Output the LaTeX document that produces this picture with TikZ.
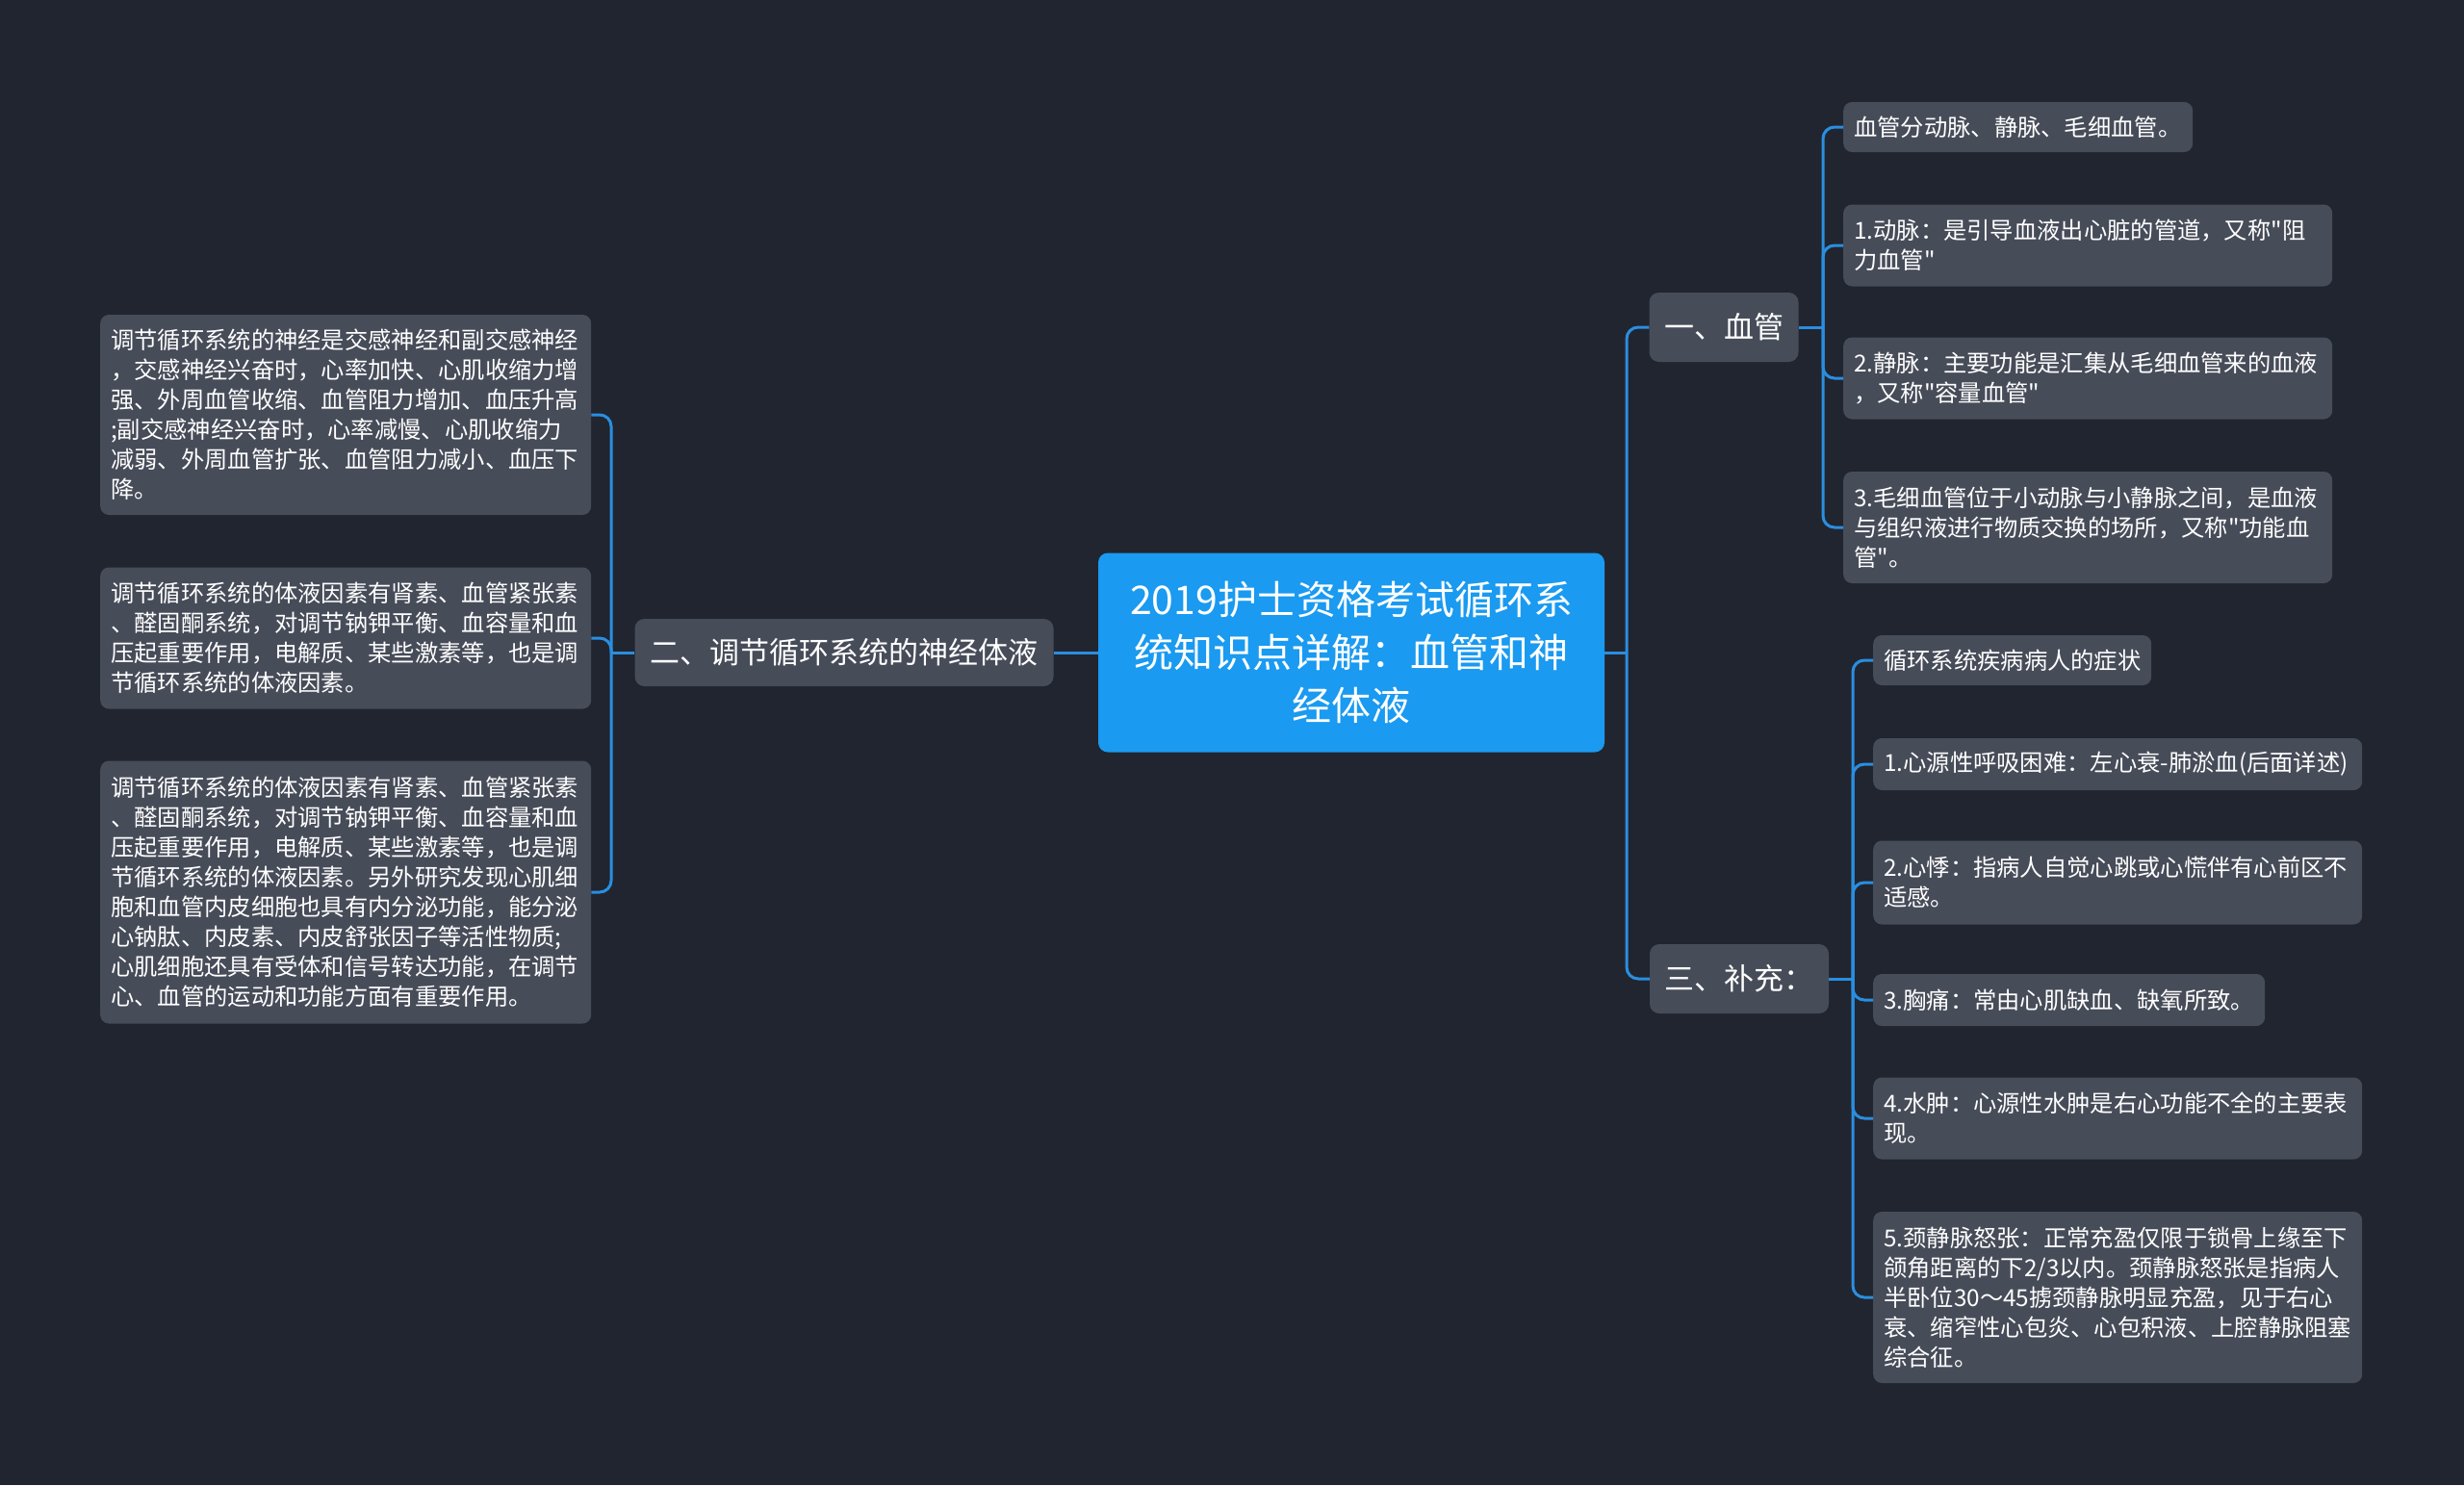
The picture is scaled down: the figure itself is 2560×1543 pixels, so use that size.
\documentclass[tikz,border=0pt]{standalone}
\usepackage{fontspec}
\setmainfont{Noto Sans CJK SC}[Ligatures=TeXOff]
\definecolor{bgdark}{HTML}{21252F}
\definecolor{nodegray}{HTML}{474C59}
\definecolor{rootblue}{HTML}{1A9AF0}
\definecolor{linkblue}{HTML}{2A8EE0}
\tikzset{
  root/.style={fill=rootblue, text=white, rounded corners=10pt, align=center,
    minimum width=526pt, minimum height=207pt, inner sep=0pt,
    font=\fontsize{41}{55}\selectfont},
  topic/.style={fill=nodegray, text=white, rounded corners=10pt, inner sep=0pt,
    font=\fontsize{31}{40}\selectfont},
  leaf/.style={fill=nodegray, text=white, rounded corners=9pt, anchor=west, align=left,
    inner xsep=11pt, inner ysep=0pt, font=\fontsize{24.3}{31}\selectfont},
  link/.style={draw=linkblue, line width=3pt, rounded corners=12pt},
}
\begin{document}
\begin{tikzpicture}[x=1pt,y=-1pt]
           % background
           \fill[bgdark] (0,0) rectangle (2560,1543);
           \useasboundingbox (0,0) rectangle (2560,1543);
           % centre and main topics
         \node[root] (root) at (1404,678) {2019护士资格考试循环系\\统知识点详解：血管和神\\经体液};
         \node[topic, minimum width=435pt, minimum height=70pt] (b2) at (877,678) {二、调节循环系统的神经体液};
         \node[topic, minimum width=155pt, minimum height=72pt] (b1) at (1791,340) {一、血管};
         \node[topic, minimum width=186pt, minimum height=72pt] (b3) at (1807,1017) {三、补充：};
           % left leaves
         \node[leaf, text width=488pt, minimum height=208pt] (l1) at (104,431) {调节循环系统的神经是交感神经和副交感神经\\，交感神经兴奋时，心率加快、心肌收缩力增\\强、外周血管收缩、血管阻力增加、血压升高\\;副交感神经兴奋时，心率减慢、心肌收缩力\\减弱、外周血管扩张、血管阻力减小、血压下\\降。};
         \node[leaf, text width=488pt, minimum height=147pt] (l2) at (104,663) {调节循环系统的体液因素有肾素、血管紧张素\\、醛固酮系统，对调节钠钾平衡、血容量和血\\压起重要作用，电解质、某些激素等，也是调\\节循环系统的体液因素。};
         \node[leaf, text width=488pt, minimum height=273pt] (l3) at (104,927) {调节循环系统的体液因素有肾素、血管紧张素\\、醛固酮系统，对调节钠钾平衡、血容量和血\\压起重要作用，电解质、某些激素等，也是调\\节循环系统的体液因素。另外研究发现心肌细\\胞和血管内皮细胞也具有内分泌功能，能分泌\\心钠肽、内皮素、内皮舒张因子等活性物质;\\心肌细胞还具有受体和信号转达功能，在调节\\心、血管的运动和功能方面有重要作用。};
           % right leaves, vessels
         \node[leaf, text width=341pt, minimum height=52pt] (r1) at (1915,132) {血管分动脉、静脉、毛细血管。};
         \node[leaf, text width=486pt, minimum height=85pt] (r2) at (1915,255) {1.动脉：是引导血液出心脏的管道，又称"阻\\力血管"};
         \node[leaf, text width=486pt, minimum height=85pt] (r3) at (1915,393) {2.静脉：主要功能是汇集从毛细血管来的血液\\，又称"容量血管"};
         \node[leaf, text width=486pt, minimum height=116pt] (r4) at (1915,548) {3.毛细血管位于小动脉与小静脉之间，是血液\\与组织液进行物质交换的场所，又称"功能血\\管"。};
           % right leaves, supplement
         \node[leaf, text width=267pt, minimum height=52pt] (s1) at (1946,686) {循环系统疾病病人的症状};
         \node[leaf, text width=486pt, minimum height=54pt] (s2) at (1946,794) {1.心源性呼吸困难：左心衰-肺淤血(后面详述)};
         \node[leaf, text width=486pt, minimum height=87pt] (s3) at (1946,917) {2.心悸：指病人自觉心跳或心慌伴有心前区不\\适感。};
         \node[leaf, text width=385pt, minimum height=54pt] (s4) at (1946,1039) {3.胸痛：常由心肌缺血、缺氧所致。};
         \node[leaf, text width=486pt, minimum height=85pt] (s5) at (1946,1162) {4.水肿：心源性水肿是右心功能不全的主要表\\现。};
         \node[leaf, text width=486pt, minimum height=178pt] (s6) at (1946,1348) {5.颈静脉怒张：正常充盈仅限于锁骨上缘至下\\颌角距离的下2/3以内。颈静脉怒张是指病人\\半卧位30～45掳颈静脉明显充盈，见于右心\\衰、缩窄性心包炎、心包积液、上腔静脉阻塞\\综合征。};
           % connectors
         \coordinate (jl) at (635,678);
         \coordinate (jr) at (1690,678);
         \coordinate (j1) at (1894,340);
         \coordinate (j3) at (1925,1017);
         \draw[link] (root.west) -- (b2.east);
         \draw[link] (b2.west) -- (jl);
         \draw[link] (jl) |- (l1.east);
         \draw[link] (jl) |- (l2.east);
         \draw[link] (jl) |- (l3.east);
         \draw[link] (root.east) -- (jr);
         \draw[link] (jr) |- (b1.west);
         \draw[link] (jr) |- (b3.west);
         \draw[link] (b1.east) -- (j1);
         \foreach \n in {r1,r2,r3,r4}
           \draw[link] (j1) |- (\n.west);
         \draw[link] (b3.east) -- (j3);
         \foreach \n in {s1,s2,s3,s4,s5,s6}
           \draw[link] (j3) |- (\n.west);
        \end{tikzpicture}
\end{document}
